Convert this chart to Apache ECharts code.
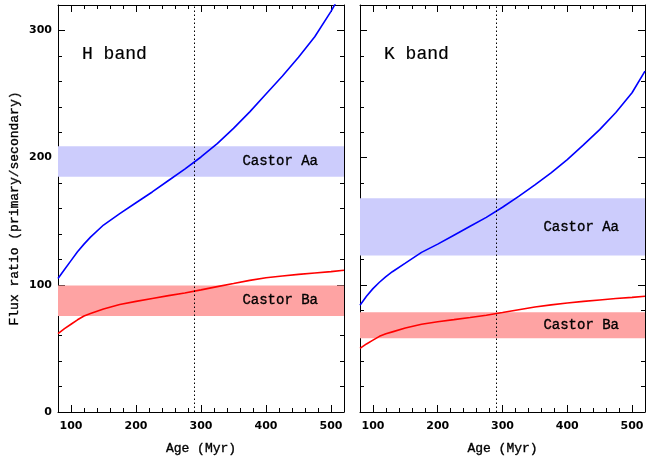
<!DOCTYPE html>
<html>
<head>
<meta charset="utf-8">
<script src="https://cdn.jsdelivr.net/npm/echarts@6/dist/echarts.min.js"></script>
<style>
  html, body { margin: 0; padding: 0; background: #fff; }
  #chart { width: 647px; height: 462px; }
</style>
</head>
<body>
<div id="chart"></div>
<script>
// model ages (Myr)
const ages = [80, 90, 100, 110, 120, 130, 150, 175, 200, 225, 250, 275, 300, 325, 350, 375, 400, 425, 450, 475, 500, 520]

const hPrimary = [105, 112, 119, 126, 132, 137.5, 147, 156, 164.5, 173, 182, 191, 200.5, 211, 223, 236, 250, 264, 279, 295, 315, 333]
const hSecondary = [61.6, 65.5, 69, 72.5, 75.5, 77.5, 81, 84.5, 87, 89.3, 91.5, 93.6, 96, 98.6, 101, 103.5, 105.5, 106.9, 108.2, 109.3, 110.4, 111.5]
const kPrimary = [84, 91, 97, 102, 106.5, 110.3, 117, 125.5, 132, 139, 146, 153, 161, 169.5, 178.5, 188, 198.5, 210, 222, 235.5, 251, 268]
const kSecondary = [50, 53.5, 56.5, 59.5, 61.5, 63, 66, 69, 71, 72.6, 74.3, 76.1, 78.2, 80.4, 82.6, 84.2, 85.7, 87, 88.1, 89.2, 90.1, 91]

// observed flux ratio ranges
const hAaBand = [185, 209]
const hBaBand = [75.5, 99.5]
const kAaBand = [123, 168]
const kBaBand = [58, 78.5]

const castorAge = 290
const xTicks = [100, 200, 300, 400, 500]
const panelNames = ['H band', 'K band']

const zip = (xs, ys) => xs.map((x, i) => [x, ys[i]])

const black = '#000'
const monoText = {fontFamily: 'Liberation Mono', fontWeight: 'normal', color: black, textBorderColor: black, textBorderWidth: 0.35}

function mainX(grid, pos, withLabels) {
    return {
        gridIndex: grid, type: 'value', position: pos, min: 80, max: 520, interval: 20,
        axisLine: {show: true, onZero: false, lineStyle: {color: black, width: 1}},
        axisTick: {show: true, inside: true, length: 4, lineStyle: {color: black}},
        axisLabel: {
            show: withLabels, margin: 9, color: black, fontFamily: 'DejaVu Sans', fontSize: 11, fontWeight: 'bold',
            showMinLabel: false, showMaxLabel: false,
            formatter: v => (v % 100 === 0 ? String(v) : ''),
        },
        splitLine: {show: false},
        name: withLabels ? 'Age (Myr)' : '', nameLocation: 'middle', nameGap: 30,
        nameTextStyle: Object.assign({fontSize: 13}, monoText),
    }
}

function majorX(grid, pos) {
    return {
        gridIndex: grid, type: 'value', position: pos, min: 80, max: 520,
        axisLine: {show: false},
        axisTick: {show: true, inside: true, length: 7, customValues: xTicks, lineStyle: {color: black}},
        axisLabel: {show: false},
        splitLine: {show: false},
    }
}

function mainY(grid, pos, withLabels, name) {
    return {
        gridIndex: grid, type: 'value', position: pos, min: 0, max: 320, interval: 100,
        axisLine: {show: true, onZero: false, lineStyle: {color: black, width: 1}},
        axisTick: {show: true, inside: true, length: 7, lineStyle: {color: black}},
        minorTick: {show: true, splitNumber: 5, length: 4, lineStyle: {color: black}},
        axisLabel: {
            show: withLabels, margin: 6, color: black, fontFamily: 'DejaVu Sans', fontSize: 11, fontWeight: 'bold',
            showMaxLabel: false,
        },
        splitLine: {show: false},
        name: name || '', nameLocation: 'middle', nameGap: 37,
        nameTextStyle: Object.assign({fontSize: 13}, monoText),
    }
}

function bandSeries(idx, aa, ba) {
    const lbl = name => Object.assign({
        show: true, position: 'insideRight', distance: 26, formatter: name, fontSize: 14,
    }, monoText)
    return {
        type: 'line', xAxisIndex: idx * 2, yAxisIndex: idx * 2, data: [], z: 1, silent: true,
        markArea: {
            silent: true,
            data: [
                [{yAxis: aa[0], itemStyle: {color: '#ccccfc'}, label: lbl('Castor Aa')}, {yAxis: aa[1]}],
                [{yAxis: ba[0], itemStyle: {color: '#fea3a3'}, label: lbl('Castor Ba')}, {yAxis: ba[1]}],
            ],
        },
        markLine: {
            silent: true, symbol: 'none', label: {show: false},
            lineStyle: {color: black, width: 1, type: [1.5, 2.5]},
            data: [{xAxis: castorAge}],
        },
    }
}

function curve(idx, data, color) {
    return {
        type: 'line', xAxisIndex: idx * 2, yAxisIndex: idx * 2, data: zip(ages, data),
        showSymbol: false, z: 3, clip: true,
        lineStyle: {color: color, width: 1.6},
    }
}

const grids = [
    {left: 58, top: 5, width: 286, height: 407},
    {left: 360, top: 5, width: 285, height: 407},
]

const option = {
    animation: false,
    backgroundColor: '#fff',
    title: panelNames.map((t, i) => ({
        text: t, left: grids[i].left + 19, top: 40,
        textStyle: Object.assign({fontSize: 18}, monoText, {textBorderWidth: 0.2}),
    })),
    grid: grids.concat(grids).map(g => Object.assign({containLabel: false, outerBoundsMode: 'none'}, g)),
    xAxis: [
        mainX(0, 'bottom', true), mainX(0, 'top', false),
        mainX(1, 'bottom', true), mainX(1, 'top', false),
        majorX(2, 'bottom'), majorX(2, 'top'),
        majorX(3, 'bottom'), majorX(3, 'top'),
    ],
    yAxis: [
        mainY(0, 'left', true, 'Flux ratio (primary/secondary)'), mainY(0, 'right', false),
        mainY(1, 'left', false), mainY(1, 'right', false),
        {gridIndex: 2, type: 'value', min: 0, max: 320, show: false},
        {gridIndex: 3, type: 'value', min: 0, max: 320, show: false},
    ],
    series: [
        bandSeries(0, hAaBand, hBaBand),
        bandSeries(1, kAaBand, kBaBand),
        curve(0, hPrimary, '#0000ff'),
        curve(0, hSecondary, '#ff0000'),
        curve(1, kPrimary, '#0000ff'),
        curve(1, kSecondary, '#ff0000'),
    ],
}

echarts.init(document.getElementById('chart'), null, {renderer: 'canvas'}).setOption(option)
</script>
</body>
</html>
